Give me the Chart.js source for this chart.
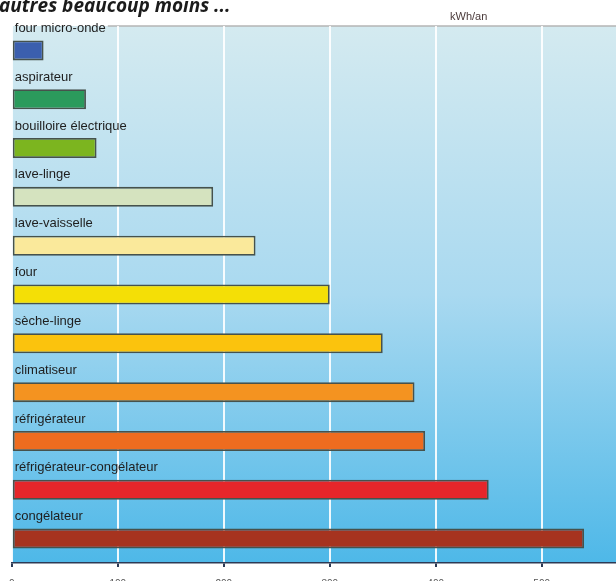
<!DOCTYPE html>
<html lang="fr">
<head>
<meta charset="utf-8">
<script src="https://cdn.jsdelivr.net/npm/chart.js@4.4.1/dist/chart.umd.min.js"></script>
<style>
  html, body { margin: 0; padding: 0; background: #fff; overflow: hidden; width: 616px; height: 581px; }
  #titre {
    position: absolute; left: -1px; top: -5px;
    font: italic 700 19px/20px "Open Sans", sans-serif; color: #1b1b1b;
    white-space: nowrap; z-index: 2;
  }
  #unite {
    position: absolute; left: 450px; top: 10px;
    font: 11px "Liberation Sans", Arial, sans-serif; color: #4a3a3a; z-index: 2;
  }
  #zone { position: absolute; left: -2px; top: 0; width: 669px; height: 601px; }
</style>
</head>
<body>
<div id="titre">autres beaucoup moins ...</div>
<div id="unite">kWh/an</div>
<div id="zone"><canvas id="barres"></canvas></div>
<script>
// Données
const appareils = [
  "four micro-onde", "aspirateur", "bouilloire électrique", "lave-linge",
  "lave-vaisselle", "four", "sèche-linge", "climatiseur", "réfrigérateur",
  "réfrigérateur-congélateur", "congélateur"
];
const conso = [30, 70, 80, 190, 230, 300, 350, 380, 390, 450, 540];
const couleurs = [
  "#3b5fae", "#2b9a5c", "#7cb51f", "#d5e3bf", "#fae99b", "#f4df06",
  "#fbc30d", "#f49320", "#ee6c1f", "#e6262a", "#a6331f"
];
const graduations = [0, 100, 200, 300, 400, 500, 600];

const policeLabels = { family: "Liberation Sans", size: 13 };

// Fond dégradé + trait du haut
const fondPlugin = {
  id: "fond",
  beforeDraw(chart) {
    const { ctx, chartArea: a } = chart;
    const g = ctx.createLinearGradient(0, a.top, 0, a.bottom);
    g.addColorStop(0, "#d4eaf0");
    g.addColorStop(0.5, "#a9d9f0");
    g.addColorStop(1, "#4eb8e8");
    ctx.save();
    ctx.fillStyle = g;
    ctx.fillRect(a.left, a.top, a.right - a.left, a.bottom - a.top);
    ctx.font = policeLabels.size + "px " + policeLabels.family;
    const debut = a.left + 3 + ctx.measureText(appareils[0]).width + 2;
    ctx.strokeStyle = "#b4b4b4";
    ctx.lineWidth = 1.5;
    ctx.beginPath();
    ctx.moveTo(debut, a.top);
    ctx.lineTo(a.right, a.top);
    ctx.stroke();
    ctx.restore();
  }
};

new Chart(document.getElementById("barres"), {
  type: "bar",
  data: {
    labels: appareils,
    datasets: [
      {
        data: conso,
        backgroundColor: couleurs,
        borderColor: "#46524c",
        borderWidth: 1.8,
        borderSkipped: false,
        categoryPercentage: 1,
        barPercentage: 0.41
      }
    ]
  },
  options: {
    indexAxis: "y",
    responsive: true,
    maintainAspectRatio: false,
    animation: false,
    layout: { padding: { top: 26, left: 4, right: 10, bottom: 0 } },
    plugins: {
      legend: { display: false },
      tooltip: { enabled: false }
    },
    scales: {
      x: {
        min: 0,
        max: 600,
        afterBuildTicks: (axis) => { axis.ticks = graduations.map(v => ({ value: v })); },
        ticks: { font: { family: "Liberation Sans", size: 10 }, color: "#555", padding: 11 },
        grid: { color: "rgba(255,255,255,0.9)", lineWidth: 2, tickColor: "#2c3a55", tickLength: 4 },
        border: { display: true, color: "#2c3a55", width: 1.5 }
      },
      y: {
        grid: { display: false, drawTicks: false },
        border: { display: false },
        ticks: {
          mirror: true,
          padding: 3,
          labelOffset: -22,
          font: policeLabels,
          color: "#1e1e1e"
        }
      }
    }
  },
  plugins: [fondPlugin]
});
</script>
</body>
</html>
